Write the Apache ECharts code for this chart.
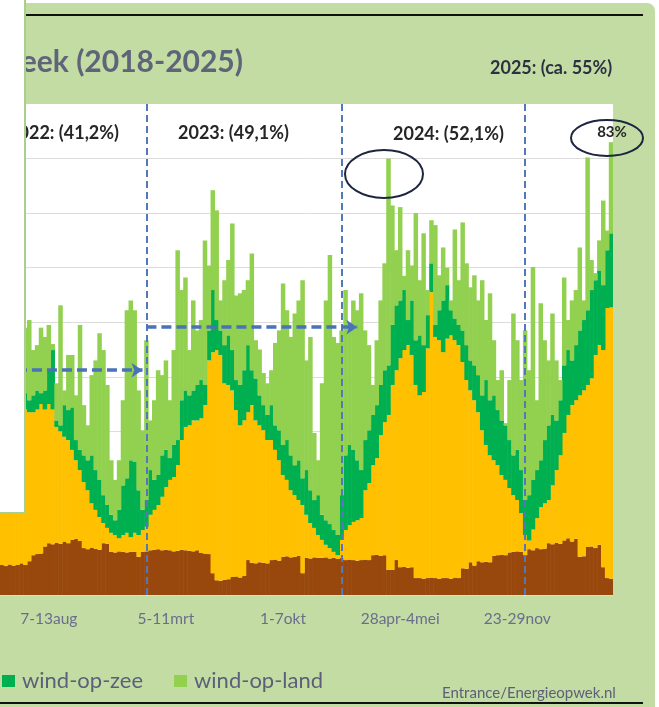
<!DOCTYPE html>
<html>
<head>
<meta charset="utf-8">
<script src="https://cdn.jsdelivr.net/npm/echarts@6/dist/echarts.min.js"></script>
<style>
html, body { margin: 0; padding: 0; background: #fff; }
#graph { width: 659px; height: 707px; }
</style>
</head>
<body>
<div id="graph"></div>
<script>
// weekly share of electricity (%), stacked: biomassa, zon, wind-op-zee, wind-op-land
var biomassa = [5.5,5.3,5.6,5.4,5.5,5.8,5.5,
  6.2,7.3,7.5,7.6,8.9,9.5,9.3, 9.6,9.4,9.8,9.5,10.1,10.3,9.9, 8.6,8.4,8.7,8.5,8.3,9.5,9.4,
  7.9,7.8,8,7.9,7.8,7.9,7.9, 7,7.9,8,8.2,8.3,8.4,8.2, 8.3,8.2,8,8.1,8.3,8.2,8.1,
  8,8.2,7.7,7.6,7.5,4,2.7, 2.6,2.8,2.9,3.3,3.4,3.2,3.5, 6.4,5.9,5.8,6,5.9,5.8,6.4,
  6.5,6.3,7,7.1,6.9,7,7.2, 4,6.8,6.7,6.9,6.8,6.8,6.9, 6.7,6.8,6.6,6.8,6.4,6.5,6.4,
  6.3,6.4,6.5,6.4,7.3,7.4,7.2, 7.3,4.6,4.6,6.4,5.1,5.2,5, 5.1,3.1,3.1,3,3.1,3.2,3.1,
  3,3.1,3.1,3,3.2,3.1,4.9, 4.8,6,5.4,6.2,6,6.1,6, 7.2,7.3,7.4,7.3,7.8,7.9,8,
  7.9,7.3,8.4,8.2,8.6,8.4,8.5, 9.5,9.3,9.6,9.4,10,10.4,9.8, 10.3,7,7.1,8.8,8.9,8.6,9.2,
  5.1,3.1,3];
var zon = [28.5,29.7,27.4,30.6,28.5,29.2,28.5,
  27.3,26.2,26.5,27.4,25.1,25.5,24.7, 21.2,20.6,19.2,18.9,16.5,14.4,13, 12.1,10.8,8.1,7.1,6,3.7,2.9,
  3.5,3.2,2.4,3.1,3.6,2.7,3.5, 4,4,4.5,6.5,7.3,8.1,9.8, 11.5,12.9,13.6,15.7,20.1,22.6,23,
  24,23.8,24.7,27.2,35.5,40.5,42.2, 41.4,36,35.6,34.2,30.5,27.9,28.5, 27.1,28.9,26.2,25.1,24.3,22.6,22,
  20.1,18.4,15,14,12.3,11.3,10.2, 12.5,7.9,6.5,5.4,4.2,3.3,2.3, 1.9,1.1,0.7,3.3,5.5,6.3,7,
  7.4,7.7,12.7,14.1,16.5,17.7,22.1, 24.4,28.4,33.9,34.8,38.3,39.7,40.8, 38.9,35.4,33.5,34.2,42.1,52.3,44.2,
  43.7,41.4,43.9,44.6,43.5,42.7,37.8, 34.6,31.5,30.3,27.3,24.2,21.4,19.6, 17.5,16.5,14.6,13.8,11.8,10.4,9.4,
  7.1,3.7,1.6,3.8,5.5,7.7,8.3, 7.9,10.8,13.3,16.2,19.7,22.6,25, 25.4,29.6,30.4,29.7,30.8,35.4,36.6,
  39.8,49.5,49.7];
var windZee = [4,2,6,1,4,1,3,
  2.2,3.1,3.5,2,3.5,6.2,10.9, 1.2,1.1,5.8,5.5,7.8,3.7,3.7, 4.9,5.5,8.8,7.3,6.8,5.1,4.2,
  3.3,2.7,5.2,9.1,10,14.1,13, 8.2,3.7,4.9,8.2,5.5,5.5,7.6, 6.8,4,5.9,4.6,7.3,6.7,5.5,
  5.5,6.5,7,3.7,5.5,11.4,5.5, 4.5,7,9.1,7.4,5.5,7.4,9.2, 12.3,6.4,7.7,5.5,4.6,4.6,6.4,
  4.5,5.5,5.5,7.3,6.4,5.5,7.3, 4.9,8.2,6,5.1,7.3,4.6,4.5, 4.4,4.1,3.7,8.2,13.7,14.7,13.2,
  11,8.8,9.2,9.7,9.2,9.7,9.2, 9.5,9.1,11,11.9,10.6,11,4.6, 10,8.2,11,8.6,6.1,5.3,2.2,
  5.5,9.5,9.8,4.6,4,3.7,5.8, 6.4,5.5,6.4,6.8,6.4,11.9,10.1, 11.9,10.1,10,10,8.8,7.3,9.2,
  7.9,6.4,8.3,9.1,8.8,8.6,11.6, 13.7,12.9,9.1,10.1,12.4,11.9,8.2, 10.1,11.9,12.9,13.7,16.2,13.7,13.7,
  11.9,10.6,13.6];
var windLand = [9,13,7,15,10,9,12,
  14.7,8.3,8.3,12,9.8,8.3,1.1, 6.8,22,2.7,10.1,9.6,8.2,22.9, 9.2,6.4,14.7,20.1,26.9,26.6,22,
  10,7.4,9.1,15.6,30.8,29.3,27.8, 18.3,14.6,29.3,9.1,14.6,19.2,14.7, 16.4,10.6,17.4,34.8,20.2,20.7,8.3,
  16.5,10,11,26.5,11.9,18.3,20.1, 5.5,11.9,13.8,23.2,15.5,16.8,14.7, 11.9,21.4,7,8.4,5.9,5.8,6.4,
  15.1,18.3,29.6,23.8,21.7,27.8,29.3, 36.3,20.1,28.1,12.3,6.4,24.1,40.3, 49.3,35.3,35.2,30.2,30.3,22.3,27.4,
  27.5,32.4,20.1,15.6,5.5,11.9,15.5, 19.6,37.9,21.9,10.1,17.1,2.6,12.8, 6.4,23.3,10.1,20.5,4.6,7.9,18.3,
  6.4,9.7,3.2,1.8,16.3,8.2,19.8, 15,13.4,16.5,13.7,21.1,11,19.6, 10.1,5.5,9.2,0.4,11,26,20.1,
  16.5,31.1,22.9,39,12.8,28.8,18.3, 11.9,18.6,11,3.7,16.1,5.5,11, 10.1,15.2,3.6,28,5.5,1.3,5.5,
  15.5,3.6,16.7];

// week index -> label shown on the x axis
var tickIdx = [12, 42, 72, 102, 132];
var tickLabels = ['7-13aug', '5-11mrt', '1-7okt', '28apr-4mei', '23-29nov'];
var yearStartIdx = [37, 87, 134];
var yearAvg = [41.2, 49.1];
var yTicks = [0, 10, 20, 30, 40, 50, 60, 70, 80, 90];

var weeks = biomassa.map(function (v, i) { return 'week ' + (i + 1); });

var chartDom = document.getElementById('graph');
var myChart = echarts.init(chartDom);

var dashBlue = '#4a72b8';
var txt = '#5b5f78';

function bar(name, data, color) {
  return {
    name: name, type: 'bar', stack: 'mix', data: data,
    barWidth: 4.5,
    itemStyle: { color: color },
    emphasis: { disabled: true },
    z: 2
  };
}

var vLine = { color: '#5378ba', type: [7, 4], width: 2 };
var arrowLine = { color: dashBlue, type: [10, 5], width: 3.5 };

var landSeries = bar('wind-op-land', windLand, '#92D050');
landSeries.markLine = {
  silent: true,
  symbol: 'none',
  label: { show: false },
  animation: false,
  data: [
    { xAxis: yearStartIdx[0], lineStyle: vLine },
    { xAxis: yearStartIdx[1], lineStyle: vLine },
    { xAxis: yearStartIdx[2], lineStyle: vLine },
    [
      { coord: [0, yearAvg[0]], symbol: 'none', lineStyle: arrowLine },
      { coord: [yearStartIdx[0] - 1, yearAvg[0]], symbol: 'arrow', symbolSize: [11, 11] }
    ],
    [
      { coord: [yearStartIdx[0], yearAvg[1]], symbol: 'none', lineStyle: arrowLine },
      { coord: [91, yearAvg[1]], symbol: 'arrow', symbolSize: [11, 11] }
    ]
  ]
};

var option = {
  animation: false,
  grid: {
    left: 0, right: 46, top: 104, bottom: 112,
    show: true, backgroundColor: '#fff', borderWidth: 0
  },
  legend: {
    data: ['wind-op-zee', 'wind-op-land'],
    left: 2, top: 670, padding: 0,
    icon: 'rect', itemWidth: 13, itemHeight: 12, itemGap: 31,
    selectedMode: false,
    textStyle: { fontFamily: 'Lato', fontSize: 22, color: txt, padding: [0, 0, 0, 2] }
  },
  xAxis: {
    type: 'category',
    data: weeks,
    axisLine: { show: false },
    axisTick: { show: false },
    axisLabel: {
      interval: function (idx) { return tickIdx.indexOf(idx) >= 0; },
      formatter: function (val, idx) { return tickLabels[tickIdx.indexOf(idx)] || ''; },
      fontFamily: 'Lato', fontSize: 15.5, color: '#6a6d8c', margin: 16
    }
  },
  yAxis: {
    type: 'value',
    min: yTicks[0], max: yTicks[yTicks.length - 1], interval: 10,
    axisLabel: { show: false },
    axisLine: { show: false },
    axisTick: { show: false },
    splitLine: {
      lineStyle: {
        color: ['#dcdcdc','#dcdcdc','#dcdcdc','#dcdcdc','#dcdcdc','#dcdcdc','#dcdcdc','#dcdcdc','#dcdcdc','rgba(0,0,0,0)']
      }
    }
  },
  series: [
    bar('biomassa', biomassa, '#98480c'),
    bar('zon', zon, '#FFC000'),
    bar('wind-op-zee', windZee, '#00B050'),
    landSeries
  ],
  graphic: [
    { type: 'rect', z: -10, shape: { x: 0, y: 3, width: 655, height: 710, r: [0, 8, 0, 0] }, style: { fill: '#c3dca4' } },
    { type: 'line', z: 50, shape: { x1: 25, y1: 15, x2: 643, y2: 15 }, style: { stroke: '#111', lineWidth: 2 } },
    { type: 'line', z: 50, shape: { x1: 0, y1: 703, x2: 643, y2: 703 }, style: { stroke: '#111', lineWidth: 2 } },
    { type: 'text', z: 50, style: { text: 'Aandeel hernieuwbaar per week (2018-2025)', x: 243, y: 62, align: 'right', verticalAlign: 'middle', font: 'bold 30px Lato', fill: '#5f6479' } },
    { type: 'text', z: 50, style: { text: '2025: (ca. 55%)', x: 490, y: 68, verticalAlign: 'middle', font: 'bold 18px Lato', fill: '#2c3142' } },
    { type: 'text', z: 50, style: { text: '2022: (41,2%)', x: 119, y: 133, align: 'right', verticalAlign: 'middle', font: 'bold 18px Lato', fill: '#262626' } },
    { type: 'text', z: 50, style: { text: '2023: (49,1%)', x: 178, y: 133, verticalAlign: 'middle', font: 'bold 18px Lato', fill: '#262626' } },
    { type: 'text', z: 50, style: { text: '2024: (52,1%)', x: 393, y: 134, verticalAlign: 'middle', font: 'bold 18px Lato', fill: '#262626' } },
    { type: 'text', z: 50, style: { text: '83%', x: 612, y: 132, align: 'center', verticalAlign: 'middle', font: 'bold 15px Lato', fill: '#262626' } },
    { type: 'ellipse', z: 50, shape: { cx: 384, cy: 174, rx: 39, ry: 24 }, style: { fill: 'none', stroke: '#1c2640', lineWidth: 2 } },
    { type: 'ellipse', z: 50, shape: { cx: 607, cy: 138, rx: 36, ry: 18 }, style: { fill: 'none', stroke: '#1c2640', lineWidth: 2 } },
    { type: 'text', z: 50, style: { text: 'Entrance/Energieopwek.nl', x: 442, y: 693, verticalAlign: 'middle', font: '15px Lato', fill: txt } },
    // white panel overlapping the left edge of the slide
    { type: 'rect', z: 50, z2: 100, shape: { x: -2, y: -2, width: 27, height: 515 }, style: { fill: '#fff', stroke: '#a9cf8f', lineWidth: 2 } }
  ]
};

option && myChart.setOption(option);
</script>
</body>
</html>
